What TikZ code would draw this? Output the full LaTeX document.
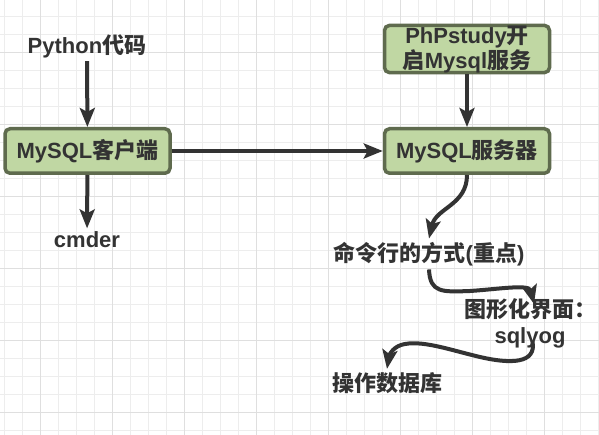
\documentclass[tikz,border=0pt]{standalone}
\usepackage{fontspec}
\setmainfont{Liberation Sans}
\newfontfamily\cjk{Noto Sans CJK SC}
\usetikzlibrary{arrows.meta}
\definecolor{boxfill}{HTML}{C0D7A3}
\definecolor{boxline}{HTML}{5F6B4E}
\definecolor{ink}{HTML}{333333}
\definecolor{gridminor}{HTML}{EDEDED}
\definecolor{gridmajor}{HTML}{DFDFDF}
\newcommand{\zh}[1]{{\cjk #1}}
\begin{document}
\begin{tikzpicture}[x=1pt, y=-1pt,
    box/.style={draw=boxline, line width=3.5pt, fill=boxfill, rounded corners=5pt,
        minimum width=165pt, minimum height=44.5pt, inner sep=0pt,
        font=\bfseries\fontsize{22}{25}\selectfont, text=ink, align=center},
    lbl/.style={font=\bfseries\fontsize{22}{26}\selectfont, text=ink, align=center},
    flow/.style={draw=ink, line width=4pt, -{Stealth[length=19pt,width=15pt,inset=4pt]}}
]
% ---------------- background grid ----------------
\useasboundingbox[fill=white] (0,0) rectangle (599,435);
\foreach \gx in {4.3,22.3,...,599} \draw[gridminor, line width=1pt] (\gx,0) -- (\gx,435);
\foreach \gy in {16.7,34.7,...,435} \draw[gridminor, line width=1pt] (0,\gy) -- (599,\gy);
\foreach \gx in {40.7,112.7,...,599} \draw[gridmajor, line width=1pt] (\gx,0) -- (\gx,435);
\foreach \gy in {52.7,124.7,...,435} \draw[gridmajor, line width=1pt] (0,\gy) -- (599,\gy);
% ---------------- client side ----------------
\node[lbl] (py)     at (87,46)    {Python\zh{代码}};
\node[box] (client) at (87.5,151) {MySQL\zh{客户端}};
\node[lbl] (cmder)  at (87,240)   {cmder};
\draw[flow] (py) -- (client);
\draw[flow] (client) -- (cmder);
% ---------------- server side ----------------
\node[box] (php)    at (467,49)   {PhPstudy\zh{开}\\\zh{启}Mysql\zh{服务}};
\node[box] (server) at (467,151)  {MySQL\zh{服务器}};
\draw[flow] (client) -- (server);
\draw[flow] (php) -- (server);
% ---------------- ways to use it ----------------
\node[lbl] (cmd) at (429,254) {\zh{命令行的方式}(\zh{重点})};
\node[lbl, inner sep=1pt] (gui) at (530,323) {\zh{图形化界面：}\\sqlyog};
\node[lbl] (ops) at (387,383) {\zh{操作数据库}};
\draw[flow] (server.south) .. controls (467,205) and (436,208) .. (cmd.north);
\draw[flow] (cmd.south) .. controls (430,293) and (442,292) .. (470,291)
    .. controls (500,289) and (529,284) .. ([xshift=4pt,yshift=-7pt]gui.north);
\draw[flow, shorten <=-8pt] ([xshift=4pt]gui.south) .. controls (537,364) and (510,364) .. (480,357)
    .. controls (450,350) and (420,339) .. (401,345)
    .. controls (392,348) and (389,356) .. (ops.north);
\end{tikzpicture}
\end{document}
